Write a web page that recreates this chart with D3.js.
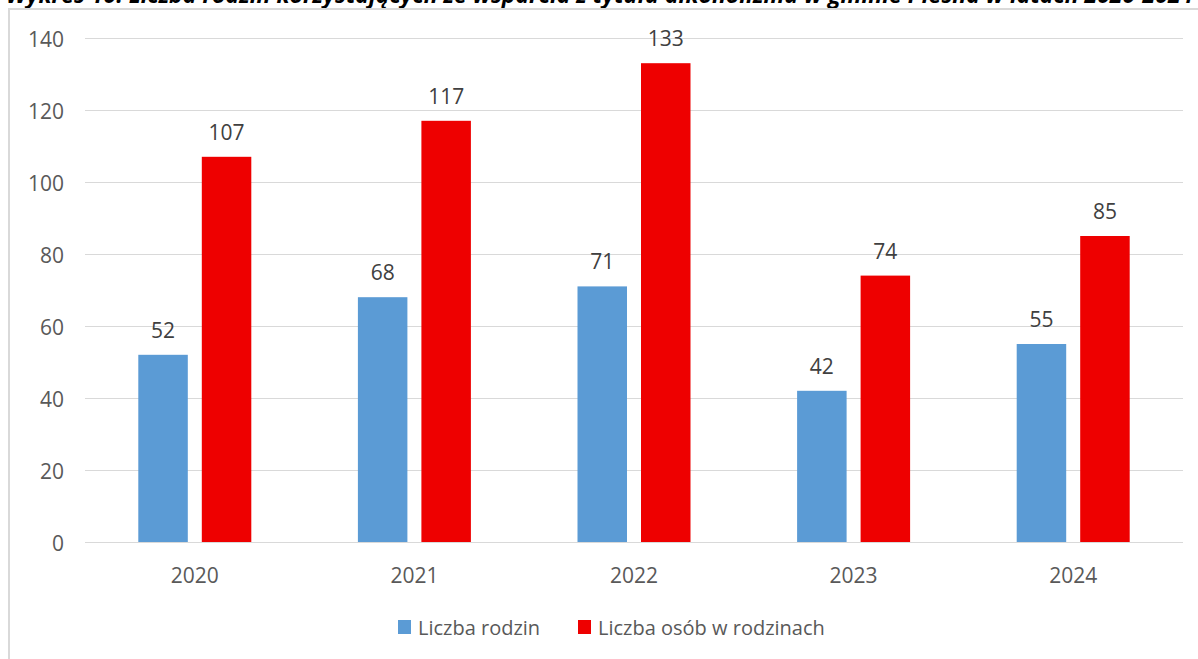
<!DOCTYPE html>
<html><head><meta charset="utf-8">
<script src="https://cdn.jsdelivr.net/npm/d3@7"></script>
<style>body{margin:0;background:#fff}svg{display:block}</style>
</head><body>
<svg id="c" width="1198" height="659"></svg>
<script>
const title = "Wykres 10. Liczba rodzin korzystających ze wsparcia z tytułu alkoholizmu w gminie Pleśna w latach 2020-2024";
const years = ["2020","2021","2022","2023","2024"];
const families = [52,68,71,42,55];
const persons = [107,117,133,74,85];
const seriesNames = ["Liczba rodzin","Liczba osób w rodzinach"];
const colors = ["#5B9BD5","#EE0000"];
const yTicks = [0,20,40,60,80,100,120,140];

const svg = d3.select("#c");
const font = "'Open Sans', sans-serif";
// title (cut off at top, as in the reference)
svg.append("text").attr("x",6).attr("y",3).attr("font-family",font).attr("font-weight","bold")
  .attr("font-style","italic").attr("font-size",23).attr("fill","#000").text(title);
// frame
svg.append("rect").attr("x",9).attr("y",9).attr("width",1230).attr("height",700)
  .attr("fill","none").attr("stroke","#D9D9D9").attr("stroke-width",2);

const L=85,R=1183,T=38,B=542;
const x = d3.scaleBand().domain(years).range([L,R]);
const y = d3.scaleLinear().domain([0,140]).range([B,T]);
const bw = 49.5, gap = 14;

const g = svg.append("g");
g.selectAll("line.grid").data(yTicks).join("line")
  .attr("x1",L).attr("x2",R).attr("y1",d=>Math.round(y(d))+0.5).attr("y2",d=>Math.round(y(d))+0.5)
  .attr("stroke","#D9D9D9").attr("stroke-width",1);

const yAxis = d3.axisLeft(y).tickValues(yTicks).tickSize(0).tickPadding(0);
const ya = svg.append("g").attr("transform",`translate(64,0)`).call(yAxis);
ya.select(".domain").remove();
ya.selectAll("text").attr("dy",null).attr("dominant-baseline","central")
  .attr("font-family",font).attr("font-size",21).attr("fill","#595959");

const xAxis = d3.axisBottom(x).tickSize(0).tickPadding(0);
const xa = svg.append("g").attr("transform",`translate(0,575)`).call(xAxis);
xa.select(".domain").remove();
xa.selectAll("text").attr("dy",null).attr("y",0).attr("dominant-baseline","central")
  .attr("font-family",font).attr("font-size",21).attr("fill","#595959");

const data = [families, persons];
data.forEach((vals,si)=>{
  const off = si===0 ? x.bandwidth()/2 - gap/2 - bw : x.bandwidth()/2 + gap/2;
  g.selectAll(null).data(vals).join("rect")
    .attr("x",(d,i)=>x(years[i])+off).attr("width",bw)
    .attr("y",d=>y(d)).attr("height",d=>B-y(d)).attr("fill",colors[si]);
  g.selectAll(null).data(vals).join("text")
    .attr("x",(d,i)=>x(years[i])+off+bw/2).attr("y",d=>y(d)-25)
    .attr("text-anchor","middle").attr("dominant-baseline","central")
    .attr("font-family",font).attr("font-size",21).attr("fill","#404040").text(d=>d);
});

// legend
const lg = svg.append("g");
const lx = [398,578];
seriesNames.forEach((n,i)=>{
  lg.append("rect").attr("x",lx[i]).attr("y",620).attr("width",13).attr("height",14).attr("fill",colors[i]);
  lg.append("text").attr("x",lx[i]+20).attr("y",627).attr("dominant-baseline","central")
    .attr("font-family",font).attr("font-size",20).attr("fill","#595959").text(n);
});
</script>
</body></html>
